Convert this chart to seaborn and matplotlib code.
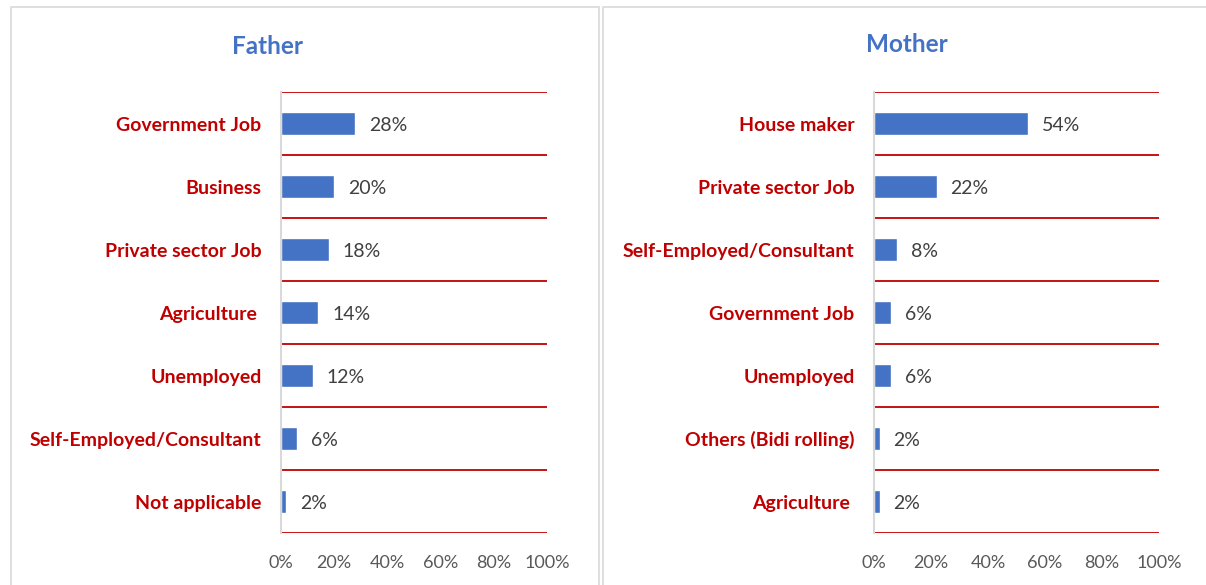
import matplotlib
matplotlib.use("Agg")
import matplotlib.pyplot as plt
from matplotlib.patches import Rectangle
from matplotlib.ticker import FixedLocator, PercentFormatter
import seaborn as sns
import pandas as pd

# Occupation of parents (% of respondents)
father_categories = ["Government Job", "Business", "Private sector Job", "Agriculture ",
                     "Unemployed", "Self-Employed/Consultant", "Not applicable"]
father_values = [28, 20, 18, 14, 12, 6, 2]

mother_categories = ["House maker", "Private sector Job", "Self-Employed/Consultant",
                     "Government Job", "Unemployed", "Others (Bidi rolling)", "Agriculture "]
mother_values = [54, 22, 8, 6, 6, 2, 2]

x_ticks = [0, 20, 40, 60, 80, 100]

sns.set_theme(style="white")
plt.rcParams["font.family"] = ["Lato", "DejaVu Sans"]

BAR_BLUE = "#4472C4"
LABEL_RED = "#C00000"
GRID_RED = "#C00000"
VALUE_GREY = "#404040"
TICK_GREY = "#595959"
AXIS_GREY = "#D9D9D9"

fig = plt.figure(figsize=(12.06, 5.85), dpi=100)

# panel frames
fig.add_artist(Rectangle((11 / 1206, -0.05), (599 - 11) / 1206, 1.05 - 7 / 585,
                         transform=fig.transFigure, fill=False,
                         edgecolor=AXIS_GREY, linewidth=1.2))
fig.add_artist(Rectangle((603 / 1206, -0.05), 0.6, 1.05 - 7 / 585,
                         transform=fig.transFigure, fill=False,
                         edgecolor=AXIS_GREY, linewidth=1.2))


def draw_panel(rect, title, title_x, title_y, categories, values):
    ax = fig.add_axes(rect)
    df = pd.DataFrame({"category": categories, "value": values})
    sns.barplot(data=df, x="value", y="category", orient="h", color=BAR_BLUE,
                width=0.36, saturation=1, ax=ax)
    n = len(categories)
    ax.set_xlim(0, 100)
    ax.set_ylim(n - 0.5, -0.5)
    ax.set_xlabel("")
    ax.set_ylabel("")

    # red separators between categories
    bounds = [i - 0.5 for i in range(n + 1)]
    ax.yaxis.set_minor_locator(FixedLocator(bounds))
    ax.grid(False)
    ax.grid(True, axis="y", which="minor", color=GRID_RED, linewidth=1.3)
    ax.set_axisbelow(True)

    for side in ("top", "right", "bottom"):
        ax.spines[side].set_visible(False)
    ax.spines["left"].set_color(AXIS_GREY)
    ax.spines["left"].set_linewidth(1.5)

    ax.tick_params(axis="y", which="major", length=0, pad=14,
                   labelsize=14, labelcolor=LABEL_RED)
    ax.tick_params(axis="y", which="minor", length=6, width=1.2, color=AXIS_GREY)
    for lbl in ax.get_yticklabels():
        lbl.set_fontweight("bold")

    ax.set_xticks(x_ticks)
    ax.xaxis.set_major_formatter(PercentFormatter(decimals=0))
    ax.tick_params(axis="x", length=0, pad=16, labelsize=13, labelcolor=TICK_GREY)

    for i, v in enumerate(values):
        ax.annotate(f"{v}%", xy=(v, i), xytext=(10, -1.5), textcoords="offset points",
                    ha="left", va="center", fontsize=14, color=VALUE_GREY)

    fig.text(title_x, 1 - title_y / 585, title, ha="center", va="center",
             fontsize=17.5, fontweight="bold", color=BAR_BLUE)
    return ax


draw_panel([281 / 1206, 1 - 533 / 585, (547 - 281) / 1206, (533 - 92) / 585],
           "Father", 268 / 1206, 47, father_categories, father_values)
draw_panel([874 / 1206, 1 - 533 / 585, (1159 - 874) / 1206, (533 - 92) / 585],
           "Mother", 907 / 1206, 44, mother_categories, mother_values)

fig.savefig("out.png", dpi=100)
